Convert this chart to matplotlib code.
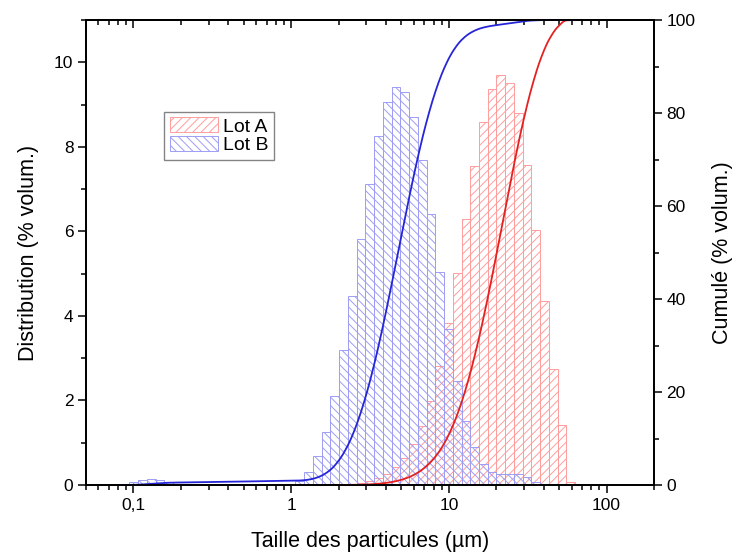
import numpy as np
import matplotlib
matplotlib.use("Agg")
import matplotlib.pyplot as plt
from matplotlib.ticker import FixedLocator, FixedFormatter, LogLocator, NullFormatter, MultipleLocator

plt.rcParams['font.family'] = ['Liberation Sans', 'DejaVu Sans']
plt.rcParams['hatch.linewidth'] = 0.7

# bornes des classes granulometriques (um)
bin_edges = [0.0830, 0.0943, 0.1071, 0.1217, 0.1382, 0.1570, 0.1784, 0.2027, 0.2303,
             0.2617, 0.2973, 0.3378, 0.3838, 0.4360, 0.4954, 0.5628, 0.6394, 0.7265,
             0.8254, 0.9378, 1.065, 1.210, 1.375, 1.562, 1.775, 2.016, 2.291, 2.603,
             2.957, 3.360, 3.818, 4.338, 4.928, 5.600, 6.362, 7.228, 8.212, 9.330,
             10.60, 12.04, 13.68, 15.54, 17.66, 20.06, 22.80, 25.90, 29.43, 33.44,
             37.99, 43.15, 49.03, 55.71, 63.30]

# % volumique par classe
lot_a = [0, 0, 0, 0, 0, 0, 0, 0, 0, 0, 0, 0, 0, 0, 0, 0, 0, 0, 0, 0, 0, 0, 0, 0, 0,
         0.02, 0.03, 0.05, 0.10, 0.17, 0.27, 0.43, 0.63, 0.97, 1.40, 1.99, 2.81, 3.84,
         5.02, 6.30, 7.55, 8.59, 9.36, 9.69, 9.51, 8.79, 7.57, 6.04, 4.35, 2.75, 1.42, 0.08]
lot_b = [0.02, 0.06, 0.12, 0.14, 0.12, 0.06, 0.03, 0.03, 0.03, 0.03, 0.03, 0.03, 0.03,
         0.03, 0.03, 0.03, 0.03, 0.03, 0.03, 0.03, 0.10, 0.31, 0.68, 1.26, 2.11, 3.19,
         4.46, 5.82, 7.12, 8.25, 9.06, 9.42, 9.30, 8.71, 7.70, 6.42, 5.04, 3.68, 2.46,
         1.52, 0.89, 0.50, 0.31, 0.26, 0.27, 0.26, 0.20, 0.08, 0.03, 0, 0, 0]

x_ticks = [0.1, 1, 10, 100]
x_labels = ['0,1', '1', '10', '100']


def pchip(x, y, xn):
    # interpolation monotone (Fritsch-Carlson) pour lisser le cumul
    h = np.diff(x)
    d = np.diff(y) / h
    m = np.zeros_like(y)
    m[0], m[-1] = d[0], d[-1]
    for i in range(1, len(y) - 1):
        if d[i - 1] * d[i] > 0:
            w1 = 2 * h[i] + h[i - 1]
            w2 = h[i] + 2 * h[i - 1]
            m[i] = (w1 + w2) / (w1 / d[i - 1] + w2 / d[i])
    idx = np.clip(np.searchsorted(x, xn) - 1, 0, len(h) - 1)
    t = (xn - x[idx]) / h[idx]
    return ((2 * t**3 - 3 * t**2 + 1) * y[idx] + (t**3 - 2 * t**2 + t) * h[idx] * m[idx]
            + (-2 * t**3 + 3 * t**2) * y[idx + 1] + (t**3 - t**2) * h[idx] * m[idx + 1])


edges = np.array(bin_edges)
lots = [("Lot A", np.array(lot_a), '#ff9d9d', '#e32222', '////'),
        ("Lot B", np.array(lot_b), '#9d9df5', '#2626d6', '\\\\\\\\')]

fig = plt.figure(figsize=(7.33, 5.54), dpi=100)
ax = fig.add_axes([0.1173, 0.1245, 0.7749, 0.8394])
ax2 = ax.twinx()

for name, h, c_bar, c_line, hatch in lots:
    ax.bar(edges[:-1], h, width=np.diff(edges), align='edge', facecolor='none',
           edgecolor=c_bar, hatch=hatch, linewidth=0.7, label=name)
    cum = np.concatenate([[0], np.cumsum(h) / h.sum() * 100])
    i0 = np.nonzero(h)[0][0]
    lx = np.log10(edges[i0:])
    xs = np.linspace(lx[0], lx[-1], 600)
    ax2.plot(10**xs, pchip(lx, cum[i0:], xs), color=c_line, lw=1.3)

ax.set_xscale('log')
ax.set_xlim(0.05, 200)
ax.set_ylim(0, 11)
ax2.set_ylim(0, 100)

ax.xaxis.set_major_locator(FixedLocator(x_ticks))
ax.xaxis.set_major_formatter(FixedFormatter(x_labels))
ax.xaxis.set_minor_locator(LogLocator(base=10, subs=np.arange(2, 10)))
ax.xaxis.set_minor_formatter(NullFormatter())
ax.yaxis.set_major_locator(MultipleLocator(2))
ax.yaxis.set_minor_locator(MultipleLocator(1))
ax2.yaxis.set_major_locator(MultipleLocator(20))
ax2.yaxis.set_minor_locator(MultipleLocator(10))

top = ax.secondary_xaxis('top')
top.xaxis.set_major_locator(FixedLocator(x_ticks))
top.xaxis.set_minor_locator(LogLocator(base=10, subs=np.arange(2, 10)))
top.xaxis.set_major_formatter(NullFormatter())
top.xaxis.set_minor_formatter(NullFormatter())
top.tick_params(which='both', direction='in', width=1.1)
top.tick_params(which='major', length=6)
top.tick_params(which='minor', length=3.5)

for a in (ax, ax2):
    a.tick_params(which='both', direction='out', width=1.1, labelsize=12.5, pad=3)
    a.tick_params(which='major', length=6)
    a.tick_params(which='minor', length=3.5)
for a in (ax, ax2, top):
    for s in a.spines.values():
        s.set_linewidth(1.3)

ax.set_xlabel("Taille des particules (µm)", fontsize=15.5, labelpad=13)
ax.set_ylabel("Distribution (% volum.)", fontsize=15.5, labelpad=11)
ax2.set_ylabel("Cumulé (% volum.)", fontsize=15.5, labelpad=12)

leg = ax.legend(loc='upper left', bbox_to_anchor=(0.137, 0.803), borderaxespad=0,
                fancybox=False, fontsize=14, handlelength=2.5, handleheight=0.8,
                labelspacing=0.0, handletextpad=0.25, borderpad=0.3)
leg.get_frame().set_edgecolor('#666666')
leg.get_frame().set_linewidth(1.0)

fig.savefig('out.png', dpi=100)
